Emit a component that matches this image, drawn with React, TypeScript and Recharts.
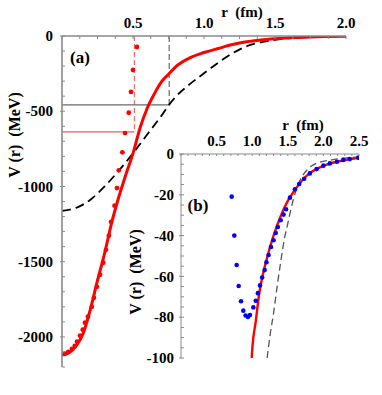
import React from 'react';
import { ComposedChart, Line, Scatter, XAxis, YAxis, ReferenceLine } from 'recharts';

// panel (a): r in fm, V in MeV
const redCurveR = [0, 0.05, 0.1, 0.15, 0.2, 0.25, 0.3, 0.35, 0.4, 0.45, 0.5, 0.55, 0.6, 0.65, 0.7, 0.75, 0.8, 0.9, 1.0, 1.1, 1.2, 1.3, 1.4, 1.5, 1.6, 1.75, 2.0];
const redCurveV = [-2120, -2105, -2060, -1975, -1815, -1625, -1445, -1240, -1070, -920, -780, -610, -480, -385, -305, -255, -205, -145, -110, -83, -57, -38, -26, -18, -12, -6, -2];

const dashCurveR = [0, 0.1, 0.2, 0.3, 0.4, 0.5, 0.6, 0.7, 0.75, 0.8, 0.9, 1.0, 1.1, 1.2, 1.3, 1.4, 1.5, 1.6, 1.75, 2.0];
const dashCurveV = [-1162, -1142, -1088, -1000, -895, -780, -655, -530, -462, -405, -320, -248, -178, -115, -68, -42, -26, -15, -7, -2];

const redDotsR = [0.02, 0.044, 0.07, 0.09, 0.106, 0.127, 0.146, 0.162, 0.183, 0.21, 0.225, 0.246, 0.268, 0.29, 0.31, 0.33, 0.345, 0.37, 0.387, 0.4, 0.425, 0.444, 0.47, 0.486, 0.5, 0.528];
const redDotsV = [-2112, -2099, -2079, -2059, -2032, -1992, -1952, -1906, -1866, -1800, -1740, -1667, -1587, -1507, -1421, -1328, -1235, -1128, -1011, -893, -773, -645, -510, -372, -226, -73];

// marker lines in (a)
const redMarkR = 0.51;
const redMarkV = -637;
const grayMarkR = 0.755;
const grayMarkV = -458;

// panel (b)
const insetRedR = [0.993, 1.0, 1.05, 1.1, 1.15, 1.2, 1.3, 1.4, 1.5, 1.6, 1.7, 1.8, 1.9, 2.0, 2.2, 2.5];
const insetRedV = [-100, -96, -82, -68, -59, -52, -40, -30.5, -23, -17.6, -13, -9.6, -7.4, -5.8, -3.7, -1.8];

const insetDashR = [1.21, 1.25, 1.3, 1.35, 1.4, 1.45, 1.5, 1.58, 1.67, 1.77, 1.9, 2.1, 2.3, 2.5];
const insetDashV = [-100, -89, -78, -65, -53, -42, -34, -22, -13, -7.8, -4.6, -3, -2, -1.5];

const blueDotsR = [0.712, 0.749, 0.782, 0.81, 0.843, 0.875, 0.908, 0.94, 0.969, 1.016, 1.05, 1.08, 1.11, 1.14, 1.175, 1.2, 1.23, 1.264, 1.3, 1.33, 1.36, 1.4, 1.44, 1.475, 1.53, 1.6, 1.66, 1.73, 1.81, 1.905, 2.0, 2.09, 2.19, 2.28, 2.37, 2.49];
const blueDotsV = [-20.9, -40, -54.4, -64.7, -72.2, -76.8, -79.2, -79.9, -78.9, -75.2, -71.9, -68.2, -64.4, -60.6, -56.9, -53.1, -49.5, -45.6, -42.3, -38.7, -35.8, -32.5, -29.7, -27.1, -21.4, -17.3, -14.7, -12.1, -9.5, -7.4, -5.7, -4.6, -3.8, -2.9, -2.5, -1.8];

// ticks
const mainXTicks = [0, 0.125, 0.25, 0.375, 0.5, 0.625, 0.75, 0.875, 1.0, 1.125, 1.25, 1.375, 1.5, 1.625, 1.75, 1.875, 2.0];
const mainXLabels = [0.5, 1.0, 1.5, 2.0];
const mainYTicks = [0, -100, -200, -300, -400, -500, -600, -700, -800, -900, -1000, -1100, -1200, -1300, -1400, -1500, -1600, -1700, -1800, -1900, -2000, -2100, -2200];
const mainYLabels = [0, -500, -1000, -1500, -2000];
const insetXTicks = [0, 0.1, 0.2, 0.3, 0.4, 0.5, 0.6, 0.7, 0.8, 0.9, 1.0, 1.1, 1.2, 1.3, 1.4, 1.5, 1.6, 1.7, 1.8, 1.9, 2.0, 2.1, 2.2, 2.3, 2.4, 2.5];
const insetXLabels = [0.5, 1.0, 1.5, 2.0, 2.5];
const insetYTicks = [0, -5, -10, -15, -20, -25, -30, -35, -40, -45, -50, -55, -60, -65, -70, -75, -80, -85, -90, -95, -100];
const insetYLabels = [0, -20, -40, -60, -80, -100];

const pts = (rs: number[], vs: number[]) => rs.map((r, i) => ({ r, v: vs[i] }));

const FONT = 'Liberation Serif, Times New Roman, serif';
const AXIS = '#8a8a8a';

const isIn = (list: number[], v: number) => list.some((t) => Math.abs(t - v) < 1e-6);

const topTick = (labels: number[], margin: number, len: number, fs: number) => (props: any) => {
  const { x, y, payload } = props;
  const axisY = y + margin;
  const v = payload.value;
  return (
    <g>
      <line x1={x} x2={x} y1={axisY} y2={axisY + len} stroke={AXIS} strokeWidth={1} />
      {isIn(labels, v) && (
        <text x={x} y={y - 2} textAnchor="middle" style={{ fontFamily: FONT }} fontWeight="bold" fontSize={fs} fill="#000">
          {v.toFixed(1)}
        </text>
      )}
    </g>
  );
};

const leftTick = (labels: number[], margin: number, len: number, fs: number) => (props: any) => {
  const { x, y, payload } = props;
  const axisX = x + margin;
  const v = payload.value;
  const major = isIn(labels, v);
  return (
    <g>
      <line x1={major ? axisX - 2 : axisX} x2={axisX + len} y1={y} y2={y} stroke={AXIS} strokeWidth={1} />
      {major && (
        <text x={x} y={y} dy="0.35em" textAnchor="end" style={{ fontFamily: FONT }} fontWeight="bold" fontSize={fs} fill="#000">
          {v}
        </text>
      )}
    </g>
  );
};

const dot = (color: string, rad: number) => (p: any) => <circle cx={p.cx} cy={p.cy} r={rad} fill={color} />;

const label = (left: number, top: number, size: number, rotate = false): React.CSSProperties => ({
  position: 'absolute',
  left,
  top,
  transform: rotate ? 'translate(-50%, -50%) rotate(-90deg)' : 'translate(-50%, -50%)',
  fontFamily: FONT,
  fontWeight: 'bold',
  fontSize: size,
  whiteSpace: 'pre',
  lineHeight: 1,
});

export default function App() {
  return (
    <div style={{ position: 'absolute', left: 0, top: 0, width: 382, height: 395, background: '#fff' }}>
      <div style={{ position: 'absolute', left: 0, top: 0 }}>
        <ComposedChart width={382} height={395} margin={{ top: 6, right: 36, bottom: 28, left: 12 }}>
          <XAxis
            xAxisId="a"
            type="number"
            dataKey="r"
            orientation="top"
            height={30}
            domain={[0, 2]}
            ticks={mainXTicks}
            interval={0}
            tickSize={0}
            tickMargin={6}
            tick={topTick(mainXLabels, 6, 3, 15)}
            axisLine={{ stroke: AXIS, strokeWidth: 1.6 }}
            allowDataOverflow
          />
          <YAxis
            yAxisId="a"
            type="number"
            dataKey="v"
            width={50}
            domain={[-2200, 0]}
            ticks={mainYTicks}
            interval={0}
            tickSize={0}
            tickMargin={9}
            tick={leftTick(mainYLabels, 9, 3, 15)}
            axisLine={{ stroke: AXIS, strokeWidth: 1.6 }}
            allowDataOverflow
          />
          <ReferenceLine xAxisId="a" yAxisId="a" segment={[{ x: 0, y: redMarkV }, { x: redMarkR, y: redMarkV }]} stroke="#f25a5a" strokeWidth={1.2} />
          <ReferenceLine xAxisId="a" yAxisId="a" segment={[{ x: redMarkR, y: 0 }, { x: redMarkR, y: redMarkV }]} stroke="#f56b6b" strokeWidth={1.2} strokeDasharray="5 3" />
          <ReferenceLine xAxisId="a" yAxisId="a" segment={[{ x: 0, y: grayMarkV }, { x: grayMarkR, y: grayMarkV }]} stroke="#6a6a6a" strokeWidth={1.4} />
          <ReferenceLine xAxisId="a" yAxisId="a" segment={[{ x: grayMarkR, y: 0 }, { x: grayMarkR, y: grayMarkV }]} stroke="#6a6a6a" strokeWidth={1.2} strokeDasharray="6 3" />
          <Scatter xAxisId="a" yAxisId="a" data={pts(redDotsR, redDotsV)} dataKey="v" shape={dot('#ff0000', 2.4)} isAnimationActive={false} />
          <Line xAxisId="a" yAxisId="a" data={pts(dashCurveR, dashCurveV)} dataKey="v" type="monotone" stroke="#000" strokeWidth={1.8} strokeDasharray="9 5" dot={false} isAnimationActive={false} />
          <Line xAxisId="a" yAxisId="a" data={pts(redCurveR, redCurveV)} dataKey="v" type="monotone" stroke="#ff0000" strokeWidth={3} dot={false} isAnimationActive={false} />
        </ComposedChart>
      </div>
      <div style={{ position: 'absolute', left: 0, top: 0, pointerEvents: 'none' }}>
        <ComposedChart width={382} height={395} margin={{ top: 124, right: 23, bottom: 37, left: 141 }}>
          <XAxis
            xAxisId="b"
            type="number"
            dataKey="r"
            orientation="top"
            height={30}
            domain={[0, 2.5]}
            ticks={insetXTicks}
            interval={0}
            tickSize={0}
            tickMargin={6}
            tick={topTick(insetXLabels, 6, 2, 15)}
            axisLine={{ stroke: AXIS, strokeWidth: 1 }}
            allowDataOverflow
          />
          <YAxis
            yAxisId="b"
            type="number"
            dataKey="v"
            width={40}
            domain={[-100, 0]}
            ticks={insetYTicks}
            interval={0}
            tickSize={0}
            tickMargin={7}
            tick={leftTick(insetYLabels, 7, 3, 15)}
            axisLine={{ stroke: AXIS, strokeWidth: 1 }}
            allowDataOverflow
          />
          <Line xAxisId="b" yAxisId="b" data={pts(insetDashR, insetDashV)} dataKey="v" type="monotone" stroke="#555" strokeWidth={1.3} strokeDasharray="7 4" dot={false} isAnimationActive={false} />
          <Line xAxisId="b" yAxisId="b" data={pts(insetRedR, insetRedV)} dataKey="v" type="monotone" stroke="#ff0000" strokeWidth={2.4} dot={false} isAnimationActive={false} />
          <Scatter xAxisId="b" yAxisId="b" data={pts(blueDotsR, blueDotsV)} dataKey="v" shape={dot('#0000ff', 2.3)} isAnimationActive={false} />
        </ComposedChart>
      </div>
      <div style={label(242, 12, 15)}>r  (fm)</div>
      <div style={label(15, 135, 16, true)}>V (r)  (MeV)</div>
      <div style={label(303, 125, 15)}>r  (fm)</div>
      <div style={label(136, 272, 16, true)}>V (r)  (MeV)</div>
      <div style={label(80, 57, 17)}>(a)</div>
      <div style={label(198, 205, 17)}>(b)</div>
    </div>
  );
}
